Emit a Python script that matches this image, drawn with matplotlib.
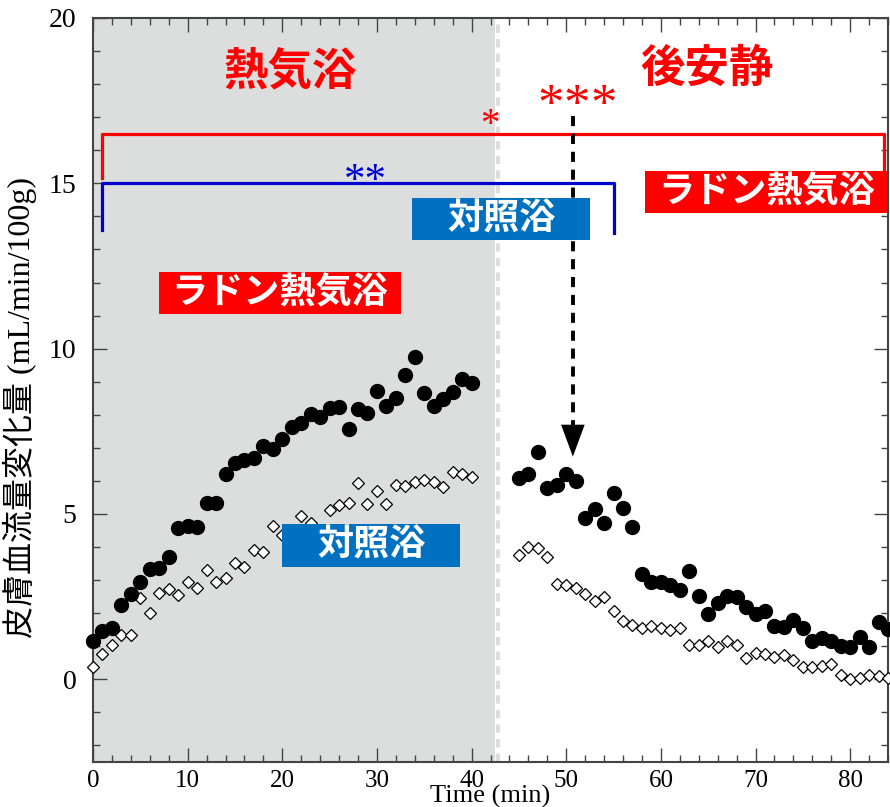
import matplotlib.pyplot as plt
from matplotlib.patches import Rectangle
from matplotlib.ticker import MultipleLocator

# time points (min): heat bath phase and post-rest phase
time_bath = list(range(0, 41))
time_rest = list(range(45, 85))

# ラドン熱気浴 (filled circles)
radon_bath = [1.15, 1.45, 1.55, 2.24, 2.59, 2.95, 3.33, 3.37, 3.70, 4.59,
              4.64, 4.62, 5.34, 5.34, 6.22, 6.54, 6.63, 6.68, 7.06, 6.96,
              7.28, 7.62, 7.75, 8.02, 7.92, 8.20, 8.24, 7.56, 8.17, 8.05,
              8.71, 8.26, 8.51, 9.19, 9.74, 8.67, 8.27, 8.47, 8.68, 9.08,
              8.96]
radon_rest = [6.08, 6.20, 6.86, 5.80, 5.88, 6.20, 6.00, 4.87, 5.14, 4.74,
              5.64, 5.17, 4.61, 3.19, 2.93, 2.95, 2.85, 2.69, 3.27, 2.52,
              1.98, 2.30, 2.51, 2.48, 2.20, 1.98, 2.08, 1.62, 1.58, 1.78,
              1.56, 1.15, 1.25, 1.17, 1.01, 0.97, 1.27, 0.97, 1.74, 1.51]

# 対照浴 (open diamonds)
control_bath = [0.36, 0.77, 1.03, 1.33, 1.35, 2.46, 2.00, 2.60, 2.73, 2.55,
                2.93, 2.77, 3.31, 2.95, 3.07, 3.52, 3.39, 3.90, 3.84, 4.65,
                4.36, 4.40, 4.94, 4.74, 4.50, 5.12, 5.27, 5.32, 5.93, 5.29,
                5.69, 5.29, 5.89, 5.84, 5.98, 6.02, 5.98, 5.82, 6.28, 6.20,
                6.12]
control_rest = [3.75, 4.00, 3.96, 3.70, 2.87, 2.85, 2.75, 2.57, 2.38, 2.48,
                2.06, 1.76, 1.64, 1.56, 1.62, 1.54, 1.48, 1.54, 1.03, 1.05,
                1.15, 0.99, 1.17, 1.03, 0.63, 0.81, 0.77, 0.67, 0.75, 0.57,
                0.38, 0.36, 0.40, 0.46, 0.12, 0.02, 0.04, 0.14, 0.10, 0.04]

x_ticks = [0, 10, 20, 30, 40, 50, 60, 70, 80]
y_ticks = [0, 5, 10, 15, 20]

JP = "Noto Sans CJK JP"
SERIF = ["Liberation Serif", JP]
RED = "#ff0000"
BLUE_LINE = "#0000d0"
BLUE_BOX = "#0070c0"

fig = plt.figure(figsize=(8.9, 8.07), dpi=100)
ax = fig.add_axes([0.1045, 0.0558, 0.8933, 0.9219])
ax.set_xlim(0, 84)
ax.set_ylim(-2.5, 20)

# shaded heat bath period
ax.axvspan(0, 42.5, color="#dcdddd", lw=0, zorder=0)
ax.axvline(42.75, color="#dcdddd", lw=3, ls=(0, (2, 1.5)), zorder=0)

ax.plot(time_bath, radon_bath, "o", ms=10, color="black", ls="none", clip_on=False, zorder=5)
ax.plot(time_rest, radon_rest, "o", ms=10, color="black", ls="none", clip_on=False, zorder=5)
ax.plot(time_bath, control_bath, "D", ms=6.3, mfc="white", mec="black", mew=0.9,
        ls="none", clip_on=False, zorder=4)
ax.plot(time_rest, control_rest, "D", ms=6.3, mfc="white", mec="black", mew=0.9,
        ls="none", clip_on=False, zorder=4)

# phase headings
ax.text(20.8, 18.4, "熱気浴", family=JP, fontsize=32, fontweight="bold", color=RED,
        ha="center", va="center")
ax.text(64.9, 18.45, "後安静", family=JP, fontsize=32, fontweight="bold", color=RED,
        ha="center", va="center")

# significance brackets
ax.plot([0.9, 0.9, 83.6, 83.6], [15.15, 16.5, 16.5, 15.3], color=RED, lw=2.3, zorder=6)
ax.plot([0.9, 0.9, 55.0, 55.0], [13.6, 15.0, 15.0, 13.5], color=BLUE_LINE, lw=2.3, zorder=6)

ax.text(41.95, 16.47, "*", family="Liberation Serif", fontsize=28, color=RED,
        ha="center", va="baseline", zorder=6)
for sx in [48.31, 51.13, 53.95]:
    ax.text(sx, 16.9, "*", family="Liberation Serif", fontsize=38, color=RED,
            ha="center", va="baseline", zorder=6)
ax.text(28.8, 14.75, "**", family="Liberation Serif", fontsize=31, color=BLUE_LINE,
        ha="center", va="baseline", zorder=6)

# dashed arrow
ax.plot([50.7, 50.7], [17.05, 7.6], color="black", lw=2.8, ls=(0, (2.6, 2.0)), zorder=7)
ax.annotate("", xy=(50.7, 6.65), xytext=(50.7, 7.8),
            arrowprops=dict(arrowstyle="-|>,head_length=2.3,head_width=0.85",
                            mutation_scale=10, color="black", lw=0), zorder=7)

# labelled boxes
boxes = [
    ("対照浴", BLUE_BOX, 33.75, 52.54, 13.29, 14.57),
    ("ラドン熱気浴", RED, 58.35, 83.9, 14.09, 15.36),
    ("ラドン熱気浴", RED, 7.0, 32.54, 11.05, 12.33),
    ("対照浴", BLUE_BOX, 20.0, 38.8, 3.39, 4.71),
]
for label, color, x0, x1, y0, y1 in boxes:
    ax.add_patch(Rectangle((x0, y0), x1 - x0, y1 - y0, facecolor=color, edgecolor="none",
                           zorder=8, clip_on=False))
    ax.text((x0 + x1) / 2, (y0 + y1) / 2, label, family=JP, fontsize=26, fontweight="bold",
            color="white", ha="center", va="center", zorder=9)

# axes styling
ax.set_xticks(x_ticks)
ax.set_yticks(y_ticks)
ax.xaxis.set_minor_locator(MultipleLocator(2))
ax.yaxis.set_minor_locator(MultipleLocator(1))
ax.tick_params(which="both", direction="in", top=True, right=True, color="#444444")
ax.tick_params(which="major", length=10, width=1)
ax.tick_params(which="minor", length=5, width=1)
ax.tick_params(axis="x", labelsize=18, pad=6)
ax.tick_params(axis="y", labelsize=20, pad=12)
for lab in ax.get_xticklabels() + ax.get_yticklabels():
    lab.set_family(SERIF)
for sp in ax.spines.values():
    sp.set_color("#444444")
    sp.set_linewidth(1.5)

ax.set_xlabel("Time (min)", family=SERIF, fontsize=19, labelpad=-5)
ax.set_ylabel("皮膚血流量変化量 (mL/min/100g)", family=SERIF, fontsize=23)
ax.yaxis.set_label_coords(-0.07, 0.477)

fig.savefig("out.png", dpi=100)
